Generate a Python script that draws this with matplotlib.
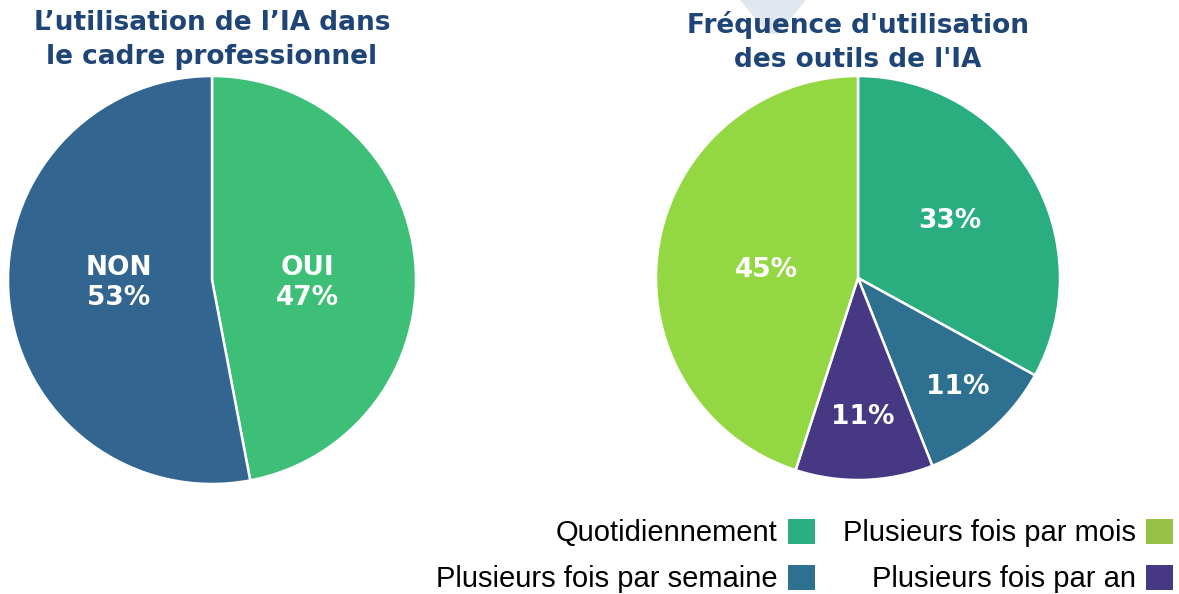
"""Deux camemberts : usage de l'IA au travail."""
import numpy as np
import matplotlib; matplotlib.use("Agg")
import matplotlib.pyplot as plt
from matplotlib.patches import Patch, Polygon

# Left pie: utilisation dans le cadre professionnel
usage_labels = ["OUI", "NON"]
usage_values = [47, 53]
usage_colors = ["#3dbf77", "#336591"]

# Right pie: fréquence d'utilisation
freq_labels = ["Quotidiennement", "Plusieurs fois par semaine",
               "Plusieurs fois par an", "Plusieurs fois par mois"]
freq_values = [33, 11, 11, 45]
freq_colors = ["#2aae80", "#2e708f", "#463883", "#93d743"]
legend_colors = {"Plusieurs fois par mois": "#95c245"}

TITLE_C = "#1f4577"
W, H = 1179, 594

fig = plt.figure(figsize=(W / 100, H / 100), dpi=100)

# faint watermark shape behind the right title
fig.patches.append(Polygon([(740 / W, 1.0), (806 / W, 1.0), (778 / W, 1 - 34 / H),
                            (768 / W, 1 - 34 / H)], closed=True,
                           transform=fig.transFigure, facecolor="#e0e7ee",
                           edgecolor="none", zorder=0))


def pie_axes(cx, cy, r):
    return fig.add_axes([(cx - r) / W, 1 - (cy + r) / H, 2 * r / W, 2 * r / H])


def draw_pie(ax, values, colors, labels, dists):
    wedges, _ = ax.pie(values, colors=colors, startangle=90, counterclock=False,
                       wedgeprops=dict(edgecolor="white", linewidth=1.8))
    for w in wedges:
        w.set_clip_on(False)
    for w, lab, d in zip(wedges, labels, dists):
        ang = np.deg2rad((w.theta1 + w.theta2) / 2)
        ax.text(d[0] * np.cos(ang) + d[1], d[0] * np.sin(ang) + d[2], lab,
                ha="center", va="center", color="white", fontsize=19,
                fontweight="bold", linespacing=1.2)
    ax.set_xlim(-1, 1)
    ax.set_ylim(-1, 1)
    ax.set_aspect("equal")


ax1 = pie_axes(212, 280, 204)
draw_pie(ax1, usage_values, usage_colors,
         [f"{l}\n{v}%" for l, v in zip(usage_labels, usage_values)],
         [(0.47, 0.0, -0.06), (0.46, 0.0, 0.03)])

ax2 = pie_axes(858, 278, 202)
draw_pie(ax2, freq_values, freq_colors, [f"{v}%" for v in freq_values],
         [(0.53, 0.0, 0.01), (0.72, 0.02, 0.0), (0.68, 0.0, -0.01), (0.46, 0.0, -0.03)])

fig.text(212 / W, 1 - 40 / H, "L’utilisation de l’IA dans\nle cadre professionnel",
         ha="center", va="center", color=TITLE_C, fontsize=19, fontweight="bold",
         linespacing=1.38)
fig.text(858 / W, 1 - 42 / H, "Fréquence d'utilisation\ndes outils de l'IA",
         ha="center", va="center", color=TITLE_C, fontsize=19, fontweight="bold",
         linespacing=1.38)

handles = [Patch(facecolor=legend_colors.get(l, c), label=l)
           for l, c in zip(freq_labels, freq_colors)]
# order so columns read: Quotidiennement / semaine | mois / an
order = [0, 1, 3, 2]
fig.legend([handles[i] for i in order], [freq_labels[i] for i in order],
           ncol=2, loc="upper right", bbox_to_anchor=(1173 / W, 1 - 519 / H),
           frameon=False, markerfirst=False,
           prop={"family": ["Liberation Sans", "DejaVu Sans"], "size": 21},
           handlelength=0.93, handleheight=0.93, handletextpad=0.35,
           columnspacing=0.95, labelspacing=0.6, borderpad=0, borderaxespad=0)

fig.savefig("out.png", dpi=100, facecolor="white")
